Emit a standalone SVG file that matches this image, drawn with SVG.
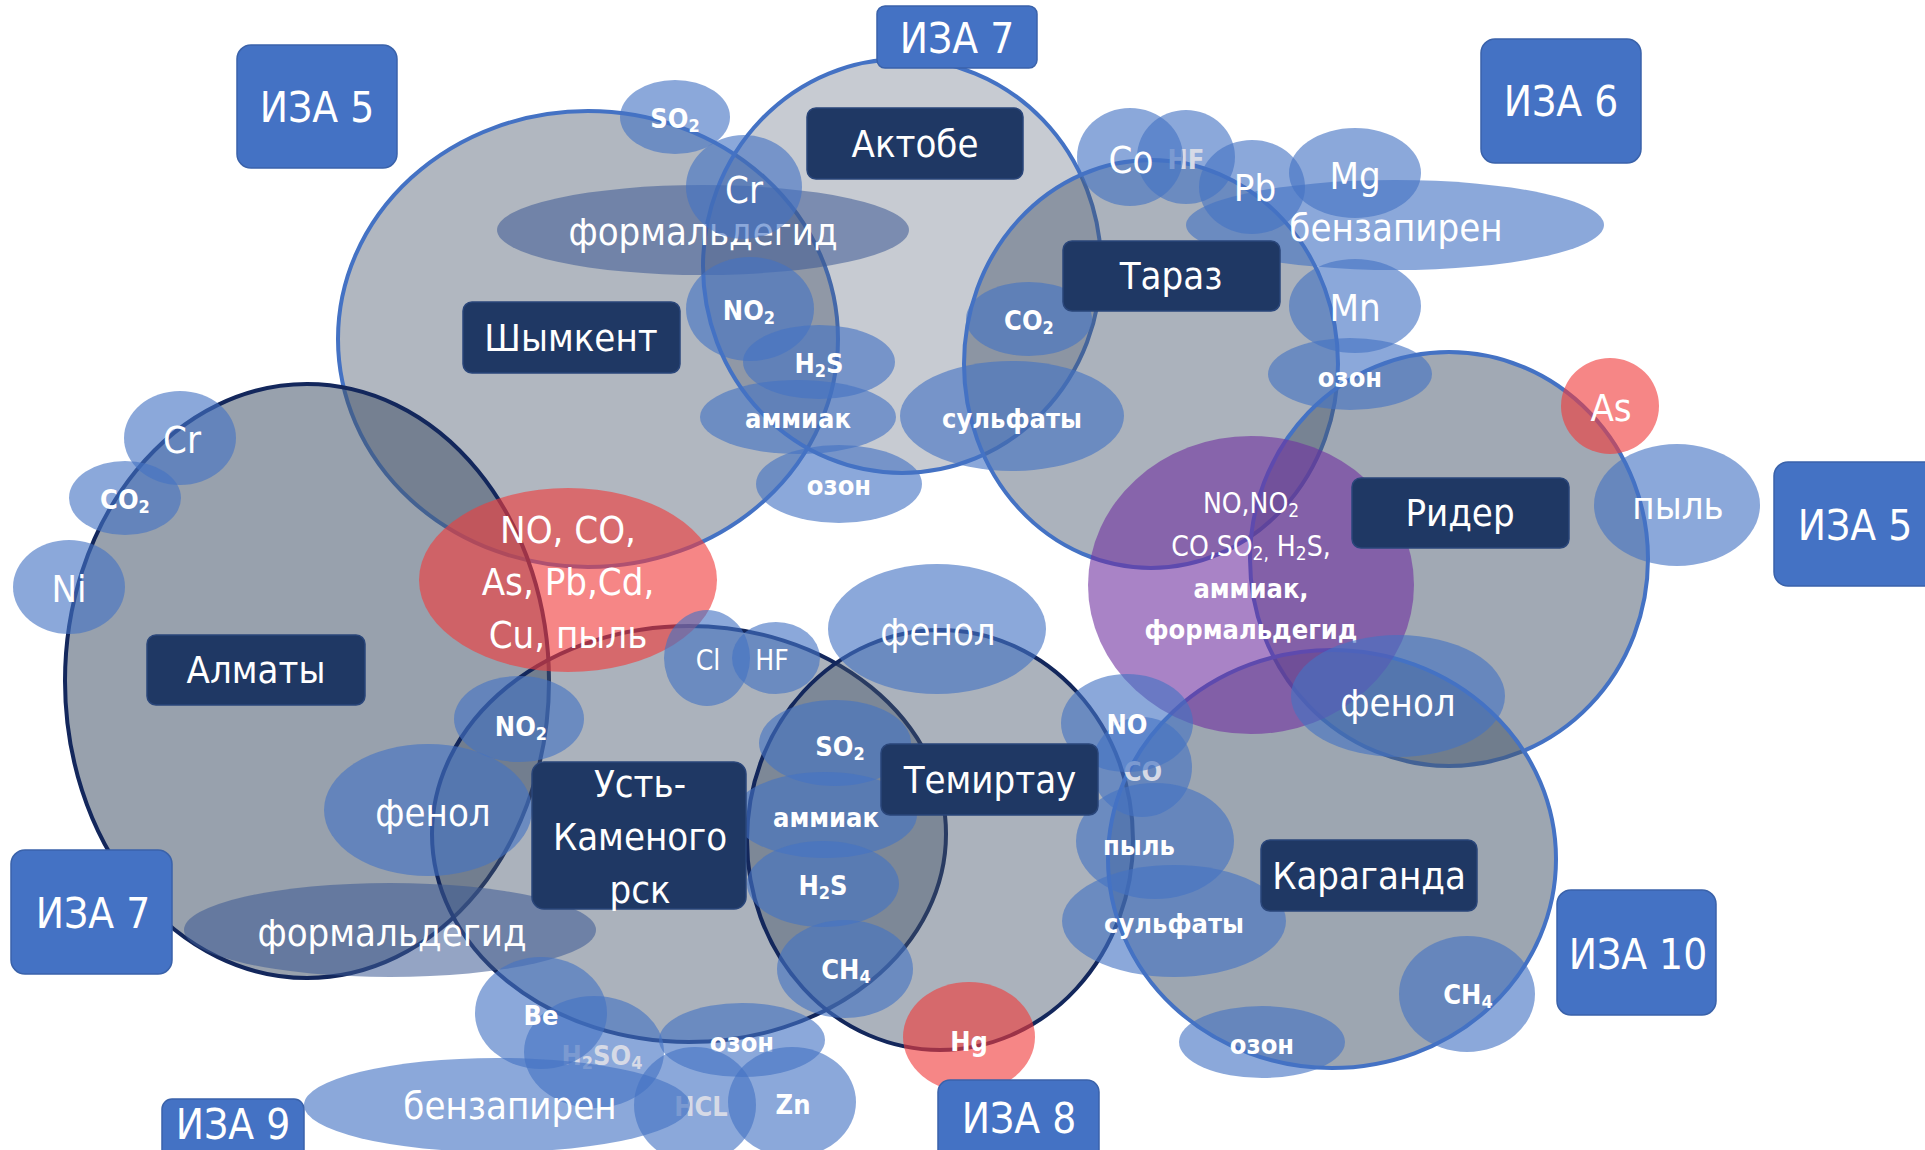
<svg xmlns="http://www.w3.org/2000/svg" width="1925" height="1150" viewBox="0 0 1925 1150">
<style>
.bg{fill:#ffffff}
.circ{fill:#44546A;stroke-width:4}
.blue{stroke:#4472C4}
.navy{stroke:#13275C}
.pol{fill:#4472C4;fill-opacity:.62}
.polg{fill:#3D5A94;fill-opacity:.55}
.red{fill:#F03C3C;fill-opacity:.62}
.purp{fill:#7030A0;fill-opacity:.6}
.iza{fill:#4472C4;stroke:#3A62AA;stroke-width:1.5}
.city{fill:#1F3864;stroke:#2A467A;stroke-width:1.5}
text{font-family:"Liberation Sans Narrow","DejaVu Sans Condensed","Liberation Sans",sans-serif;fill:#ffffff;text-anchor:middle;dominant-baseline:central}
.ti{font-size:42px}
.tc{font-size:38px}
.tl{font-size:38px}
.tm{font-size:27px;font-weight:bold}
.ts{font-size:28px}
.pale{fill:#D6DAE6}
</style>
<rect class="bg" x="0" y="0" width="1925" height="1150"/>

<g id="zones">
  <ellipse id="zone-shymkent" class="circ blue" cx="588" cy="339" rx="250" ry="228" fill-opacity="0.42"/>
  <ellipse id="zone-aktobe" class="circ blue" cx="902" cy="266" rx="199" ry="207" fill-opacity="0.3"/>
  <ellipse id="zone-taraz" class="circ blue" cx="1151" cy="364" rx="187" ry="204" fill-opacity="0.45"/>
  <ellipse id="zone-rider" class="circ blue" cx="1449" cy="559" rx="199" ry="207" fill-opacity="0.5"/>
  <ellipse id="zone-almaty" class="circ navy" cx="307" cy="681" rx="242" ry="297" fill-opacity="0.55"/>
  <ellipse id="zone-ust" class="circ navy" cx="689" cy="834" rx="257" ry="208" fill-opacity="0.45"/>
  <ellipse id="zone-temirtau" class="circ navy" cx="940" cy="840" rx="193" ry="210" fill-opacity="0.45"/>
  <ellipse id="zone-karaganda" class="circ blue" cx="1332" cy="859" rx="224" ry="209" fill-opacity="0.52"/>
</g>

<g id="pollutants">
  <g id="p-so2-a"><ellipse class="pol" cx="675" cy="117" rx="55" ry="37"/><text class="tm" x="675" y="118">SO<tspan font-size="18" dy="7">2</tspan></text></g>
  <g id="p-form-a"><ellipse class="polg" cx="703" cy="230" rx="206" ry="45"/><text class="tl" x="703" y="232">формальдегид</text></g>
  <g id="p-cr-a"><ellipse class="pol" cx="744" cy="187" rx="58" ry="52" fill-opacity="0.5"/><text class="tl" x="744" y="190">Cr</text></g>
  <g id="p-no2-a"><ellipse class="pol" cx="750" cy="309" rx="64" ry="52"/><text class="tm" x="749" y="310">NO<tspan font-size="18" dy="7">2</tspan></text></g>
  <g id="p-h2s-a"><ellipse class="pol" cx="819" cy="362" rx="76" ry="37"/><text class="tm" x="819" y="363">H<tspan font-size="18" dy="7">2</tspan><tspan dy="-7">S</tspan></text></g>
  <g id="p-amm-a"><ellipse class="pol" cx="798" cy="417" rx="98" ry="37"/><text class="tm" x="798" y="418">аммиак</text></g>
  <g id="p-ozon-a"><ellipse class="pol" cx="839" cy="484" rx="83" ry="39"/><text class="tm" x="839" y="485">озон</text></g>
  <g id="p-sulf-a"><ellipse class="pol" cx="1012" cy="416" rx="112" ry="55"/><text class="tm" x="1012" y="418">сульфаты</text></g>
  <g id="p-co2-t"><ellipse class="pol" cx="1029" cy="319" rx="63" ry="37"/><text class="tm" x="1029" y="320">CO<tspan font-size="18" dy="7">2</tspan></text></g>
  <g id="p-hf-a"><ellipse class="pol" cx="1186" cy="157" rx="49" ry="47"/><text class="tm pale" x="1186" y="159">HF</text></g>
  <g id="p-co"><ellipse class="pol" cx="1130" cy="157" rx="53" ry="49"/><text class="tl" x="1131" y="160">Co</text></g>
  <g id="p-benz-a"><ellipse class="pol" cx="1395" cy="225" rx="209" ry="45" fill-opacity="0.5"/><text class="tl" x="1396" y="228">бензапирен</text></g>
  <g id="p-mg"><ellipse class="pol" cx="1355" cy="173" rx="66" ry="45"/><text class="tl" x="1355" y="176">Mg</text></g>
  <g id="p-pb"><ellipse class="pol" cx="1252" cy="187" rx="53" ry="47" fill-opacity="0.5"/><text class="tl" x="1255" y="188">Pb</text></g>
  <g id="p-mn"><ellipse class="pol" cx="1355" cy="306" rx="66" ry="47"/><text class="tl" x="1355" y="308">Mn</text></g>
  <g id="p-ozon-b"><ellipse class="pol" cx="1350" cy="374" rx="82" ry="36"/><text class="tm" x="1350" y="377">озон</text></g>
  <g id="p-as"><ellipse class="red" cx="1610" cy="406" rx="49" ry="48"/><text class="tl" x="1611" y="408">As</text></g>
  <g id="p-dust-r"><ellipse class="pol" cx="1677" cy="505" rx="83" ry="61" fill-opacity="0.5"/><text class="tl" x="1678" y="506">пыль</text></g>
  <g id="p-rider-mix"><ellipse class="purp" cx="1251" cy="585" rx="163" ry="149"/>
    <text class="ts" x="1251" y="503">NO,NO<tspan font-size="19" dy="7">2</tspan></text>
    <text class="ts" x="1251" y="546">CO,SO<tspan font-size="19" dy="7">2,</tspan><tspan dy="-7"> H</tspan><tspan font-size="19" dy="7">2</tspan><tspan dy="-7">S,</tspan></text>
    <text class="tm" x="1251" y="588">аммиак,</text>
    <text class="tm" x="1251" y="629">формальдегид</text></g>
  <g id="p-phenol-r"><ellipse class="pol" cx="1398" cy="696" rx="107" ry="61"/><text class="tl" x="1398" y="703">фенол</text></g>

  <g id="p-cr-l"><ellipse class="pol" cx="180" cy="438" rx="56" ry="47"/><text class="tl" x="182" y="440">Cr</text></g>
  <g id="p-co2-l"><ellipse class="pol" cx="125" cy="498" rx="56" ry="37"/><text class="tm" x="125" y="499">CO<tspan font-size="18" dy="7">2</tspan></text></g>
  <g id="p-ni"><ellipse class="pol" cx="69" cy="587" rx="56" ry="47"/><text class="tl" x="69" y="589">Ni</text></g>
  <g id="p-metals"><ellipse class="red" cx="568" cy="580" rx="149" ry="92"/>
    <text class="tl" x="568" y="530">NO, CO,</text>
    <text class="tl" x="568" y="582">As, Pb,Cd,</text>
    <text class="tl" x="568" y="635">Cu, пыль</text></g>
  <g id="p-no2-l"><ellipse class="pol" cx="519" cy="719" rx="65" ry="43"/><text class="tm" x="521" y="726">NO<tspan font-size="18" dy="7">2</tspan></text></g>
  <g id="p-phenol-l"><ellipse class="pol" cx="428" cy="810" rx="104" ry="66"/><text class="tl" x="433" y="813">фенол</text></g>
  <g id="p-form-l"><ellipse class="polg" cx="390" cy="930" rx="206" ry="47"/><text class="tl" x="392" y="933">формальдегид</text></g>
  <g id="p-cl"><ellipse class="pol" cx="707" cy="658" rx="43" ry="48"/><text class="ts" x="708" y="660">Cl</text></g>
  <g id="p-hf-m"><ellipse class="pol" cx="776" cy="658" rx="44" ry="36"/><text class="ts" x="772" y="660">HF</text></g>
  <g id="p-phenol-m"><ellipse class="pol" cx="937" cy="629" rx="109" ry="65"/><text class="tl" x="938" y="632">фенол</text></g>
  <g id="p-so2-t"><ellipse class="pol" cx="835" cy="743" rx="76" ry="43"/><text class="tm" x="840" y="746">SO<tspan font-size="18" dy="7">2</tspan></text></g>
  <g id="p-amm-t"><ellipse class="pol" cx="825" cy="815" rx="92" ry="43"/><text class="tm" x="826" y="817">аммиак</text></g>
  <g id="p-h2s-t"><ellipse class="pol" cx="823" cy="884" rx="76" ry="43"/><text class="tm" x="823" y="885">H<tspan font-size="18" dy="7">2</tspan><tspan dy="-7">S</tspan></text></g>
  <g id="p-ch4-t"><ellipse class="pol" cx="845" cy="969" rx="68" ry="49"/><text class="tm" x="846" y="969">CH<tspan font-size="18" dy="7">4</tspan></text></g>
  <g id="p-hg"><ellipse class="red" cx="969" cy="1037" rx="66" ry="55"/><text class="tm" x="969" y="1041">Hg</text></g>
  <g id="p-co-k"><ellipse class="pol" cx="1142" cy="767" rx="50" ry="50"/><text class="tm pale" x="1143" y="771">CO</text></g>
  <g id="p-no-k"><ellipse class="pol" cx="1127" cy="723" rx="66" ry="49" fill-opacity="0.5"/><text class="tm" x="1127" y="724">NO</text></g>
  <g id="p-dust-k"><ellipse class="pol" cx="1155" cy="841" rx="79" ry="58"/><text class="tm" x="1139" y="845">пыль</text></g>
  <g id="p-sulf-k"><ellipse class="pol" cx="1174" cy="921" rx="112" ry="56"/><text class="tm" x="1174" y="923">сульфаты</text></g>
  <g id="p-ch4-k"><ellipse class="pol" cx="1467" cy="994" rx="68" ry="58"/><text class="tm" x="1468" y="994">CH<tspan font-size="18" dy="7">4</tspan></text></g>
  <g id="p-ozon-k"><ellipse class="pol" cx="1262" cy="1042" rx="83" ry="36"/><text class="tm" x="1262" y="1044">озон</text></g>

  <g id="p-h2so4"><ellipse class="pol" cx="594" cy="1052" rx="70" ry="56"/><text class="tm pale" x="602" y="1055">H<tspan font-size="18" dy="7">2</tspan><tspan dy="-7">SO</tspan><tspan font-size="18" dy="7">4</tspan></text></g>
  <g id="p-be"><ellipse class="pol" cx="541" cy="1013" rx="66" ry="56" fill-opacity="0.5"/><text class="tm" x="541" y="1015">Be</text></g>
  <g id="p-ozon-u"><ellipse class="pol" cx="742" cy="1040" rx="83" ry="37"/><text class="tm" x="742" y="1042">озон</text></g>
  <g id="p-hcl"><ellipse class="pol" cx="695" cy="1105" rx="61" ry="58"/><text class="tm pale" x="701" y="1106">HCL</text></g>
  <g id="p-zn"><ellipse class="pol" cx="792" cy="1102" rx="64" ry="55"/><text class="tm" x="793" y="1104">Zn</text></g>
  <g id="p-benz-b"><ellipse class="pol" cx="497" cy="1105" rx="193" ry="47" fill-opacity="0.45"/><text class="tl" x="510" y="1106">бензапирен</text></g>
</g>

<g id="cities">
  <g id="city-aktobe"><rect class="city" x="807" y="108" width="216" height="71" rx="9"/><text class="tc" x="915" y="144">Актобе</text></g>
  <g id="city-shymkent"><rect class="city" x="463" y="302" width="217" height="71" rx="9"/><text class="tc" x="571" y="338">Шымкент</text></g>
  <g id="city-taraz"><rect class="city" x="1063" y="241" width="217" height="70" rx="9"/><text class="tc" x="1171" y="276">Тараз</text></g>
  <g id="city-rider"><rect class="city" x="1352" y="478" width="217" height="70" rx="9"/><text class="tc" x="1460" y="513">Ридер</text></g>
  <g id="city-almaty"><rect class="city" x="147" y="635" width="218" height="70" rx="9"/><text class="tc" x="256" y="670">Алматы</text></g>
  <g id="city-ust"><rect class="city" x="532" y="762" width="214" height="147" rx="12"/>
    <text class="tc" x="640" y="784">Усть-</text><text class="tc" x="640" y="837">Каменого</text><text class="tc" x="640" y="890">рск</text></g>
  <g id="city-temirtau"><rect class="city" x="881" y="744" width="217" height="71" rx="9"/><text class="tc" x="990" y="780">Темиртау</text></g>
  <g id="city-karaganda"><rect class="city" x="1261" y="840" width="216" height="71" rx="9"/><text class="tc" x="1369" y="876">Караганда</text></g>
</g>

<g id="sources">
  <g id="iza5-tl"><rect class="iza" x="237" y="45" width="160" height="123" rx="14"/><text class="ti" x="317" y="107">ИЗА 5</text></g>
  <g id="iza7-top"><rect class="iza" x="877" y="6" width="160" height="62" rx="8"/><text class="ti" x="957" y="38">ИЗА 7</text></g>
  <g id="iza6"><rect class="iza" x="1481" y="39" width="160" height="124" rx="14"/><text class="ti" x="1561" y="101">ИЗА 6</text></g>
  <g id="iza5-r"><rect class="iza" x="1774" y="462" width="170" height="124" rx="14"/><text class="ti" x="1855" y="525">ИЗА 5</text></g>
  <g id="iza7-l"><rect class="iza" x="11" y="850" width="161" height="124" rx="14"/><text class="ti" x="93" y="913">ИЗА 7</text></g>
  <g id="iza10"><rect class="iza" x="1557" y="890" width="159" height="125" rx="14"/><text class="ti" x="1638" y="954">ИЗА 10</text></g>
  <g id="iza8"><rect class="iza" x="938" y="1080" width="161" height="90" rx="12"/><text class="ti" x="1019" y="1118">ИЗА 8</text></g>
  <g id="iza9"><rect class="iza" x="162" y="1099" width="142" height="70" rx="10"/><text class="ti" x="233" y="1124" font-size="38">ИЗА 9</text></g>
</g>
</svg>
